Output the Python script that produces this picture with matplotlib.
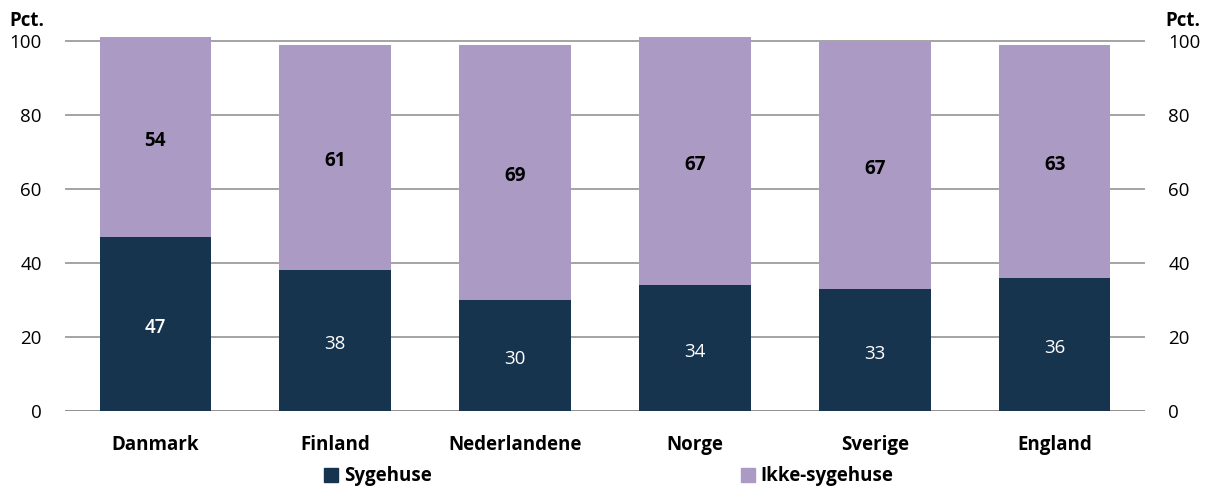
import matplotlib.pyplot as plt
import numpy as np
from matplotlib.patches import Patch

plt.rcParams['font.family'] = ['Open Sans', 'DejaVu Sans']

lande = ["Danmark", "Finland", "Nederlandene", "Norge", "Sverige", "England"]
sygehuse = [47, 38, 30, 34, 33, 36]
ikke_sygehuse = [54, 61, 69, 67, 67, 63]

navy = "#17344f"
lilla = "#aa9ac4"
fs = 13.5

fig = plt.figure(figsize=(12.1, 4.91), dpi=100)
ax = fig.add_axes([0.054, 0.163, 0.892, 0.7686])

x = np.arange(len(lande))
b = 0.62
ax.bar(x, sygehuse, b, color=navy, zorder=3)
ax.bar(x, ikke_sygehuse, b, bottom=sygehuse, color=lilla, zorder=3)

for i in range(len(lande)):
    vaegt = "semibold" if i == 0 else "normal"
    ax.text(x[i], sygehuse[i] / 2 - 1, str(sygehuse[i]), ha="center", va="center",
            color="white", fontsize=fs, fontweight=vaegt, zorder=4)
    ax.text(x[i], sygehuse[i] + ikke_sygehuse[i] / 2 - 1, str(ikke_sygehuse[i]),
            ha="center", va="center", color="black", fontsize=fs,
            fontweight="bold", zorder=4)

ax.set_xlim(-0.5, len(lande) - 0.5)
ax.set_ylim(0, 102)
ax.set_yticks(range(0, 101, 20))
ax.yaxis.grid(True, color="#8c8c8c", linewidth=1.1, zorder=0)
ax.set_xticks(x)
ax.set_xticklabels(lande, fontsize=fs, fontweight="bold")
ax.tick_params(axis="x", length=0, pad=17)
ax.tick_params(axis="y", length=0, labelsize=fs, pad=17,
               labelleft=True, labelright=True)
for s in ax.spines.values():
    s.set_visible(False)
ax.axhline(0, color="#8c8c8c", linewidth=1.1, zorder=2)

fig.text(0.008, 0.958, "Pct.", fontsize=fs, fontweight="bold", ha="left", va="center")
fig.text(0.963, 0.958, "Pct.", fontsize=fs, fontweight="bold", ha="left", va="center")

handles = [Patch(color=navy, label="Sygehuse"), Patch(color=lilla, label="Ikke-sygehuse")]
fig.legend(handles=handles, loc="center", bbox_to_anchor=(0.503, 0.03), ncol=2,
           frameon=False, columnspacing=16.5, handlelength=0.75,
           handleheight=0.75, handletextpad=0.3,
           prop={"weight": "bold", "size": fs})

fig.savefig("out.png", dpi=100)
